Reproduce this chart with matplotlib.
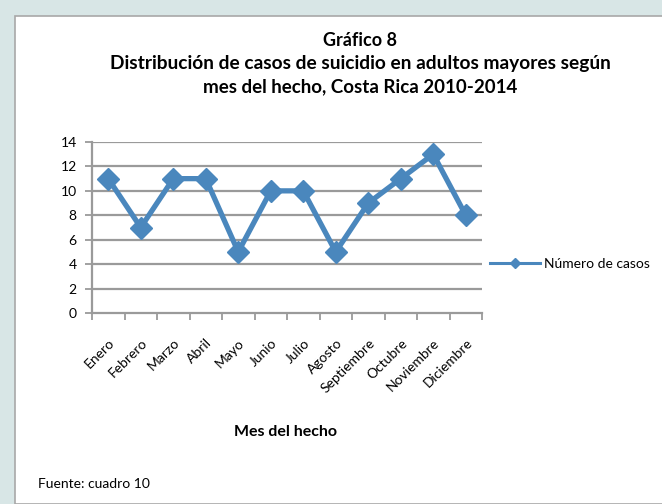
import matplotlib
matplotlib.use("Agg")
import matplotlib.pyplot as plt
from matplotlib.patches import Rectangle
import numpy as np

months = ["Enero", "Febrero", "Marzo", "Abril", "Mayo", "Junio", "Julio",
          "Agosto", "Septiembre", "Octubre", "Noviembre", "Diciembre"]
casos = [11, 7, 11, 11, 5, 10, 10, 5, 9, 11, 13, 8]
yticks = [0, 2, 4, 6, 8, 10, 12, 14]

W, H = 662, 504
fig = plt.figure(figsize=(W / 100, H / 100), dpi=100)
fig.patch.set_facecolor("#d8e6e6")
FONT = ["Lato", "DejaVu Sans"]

# white panel
panel = Rectangle((15 / W, 0.5 / H), (W - 15) / W + 0.01, (H - 16 - 0.5) / H,
                  transform=fig.transFigure, facecolor="white",
                  edgecolor="#a8a8a8", linewidth=1.2, zorder=-5)
fig.patches.append(panel)

ax = fig.add_axes([92 / W, (H - 313) / H, (482 - 92) / W, (313 - 142) / H])
ax.set_zorder(5)
ax.set_facecolor("white")
x = np.arange(len(months))
color = "#4a87bd"
ax.plot(x, casos, color=color, linewidth=3.8, marker="D", markersize=11,
        markeredgecolor=color, markerfacecolor=color, label="Número de casos",
        solid_joinstyle="miter", clip_on=False, zorder=3)
ax.set_xlim(-0.5, len(months) - 0.5)
ax.set_ylim(0, 14)
ax.set_yticks(yticks)
ax.set_yticklabels([str(v) for v in yticks], fontsize=10, family=FONT)
for v in yticks[1:]:
    ax.axhline(v, color="#9a9a9a", linewidth=1.6, zorder=1)
for s in ["top", "right"]:
    ax.spines[s].set_visible(False)
for s in ["left", "bottom"]:
    ax.spines[s].set_color("#9a9a9a")
    ax.spines[s].set_linewidth(1.6)
ax.tick_params(axis="y", length=5, width=1.3, color="#9a9a9a", pad=6)
ax.set_xticks(np.arange(-0.5, len(months), 1.0))
ax.set_xticklabels([])
ax.tick_params(axis="x", which="major", length=5, width=1.3, color="#9a9a9a")
ax.set_xticks(x, minor=True)
ax.set_xticklabels(months, minor=True, rotation=45, ha="right", va="top",
                   rotation_mode="anchor", fontsize=10, family=FONT)
ax.tick_params(axis="x", which="minor", length=0, pad=17)

leg = fig.legend(handles=ax.get_lines(), labels=["Número de casos"],
                 loc="center left", bbox_to_anchor=(477 / W, (H - 264) / H),
                 frameon=False, prop={"family": FONT, "size": 10},
                 handlelength=3.6, markerscale=0.5, handletextpad=0.35)
for l in leg.get_lines():
    l.set_linewidth(2.2)

fig.text(360 / W, (H - 40) / H, "Gráfico 8", ha="center", va="center",
         fontsize=13, fontweight="bold", family=FONT)
fig.text(360 / W, (H - 64) / H, "Distribución de casos de suicidio en adultos mayores según",
         ha="center", va="center", fontsize=13.8, fontweight="bold", family=FONT)
fig.text(360 / W, (H - 87) / H, "mes del hecho, Costa Rica 2010-2014",
         ha="center", va="center", fontsize=13.5, fontweight="bold", family=FONT)
fig.text(285 / W, (H - 432) / H, "Mes del hecho", ha="center", va="center",
         fontsize=11.5, fontweight="bold", family=FONT)
fig.text(38 / W, (H - 484) / H, "Fuente: cuadro 10", ha="left", va="center",
         fontsize=10, family=FONT)

fig.savefig("out.png", dpi=100, facecolor=fig.get_facecolor())
